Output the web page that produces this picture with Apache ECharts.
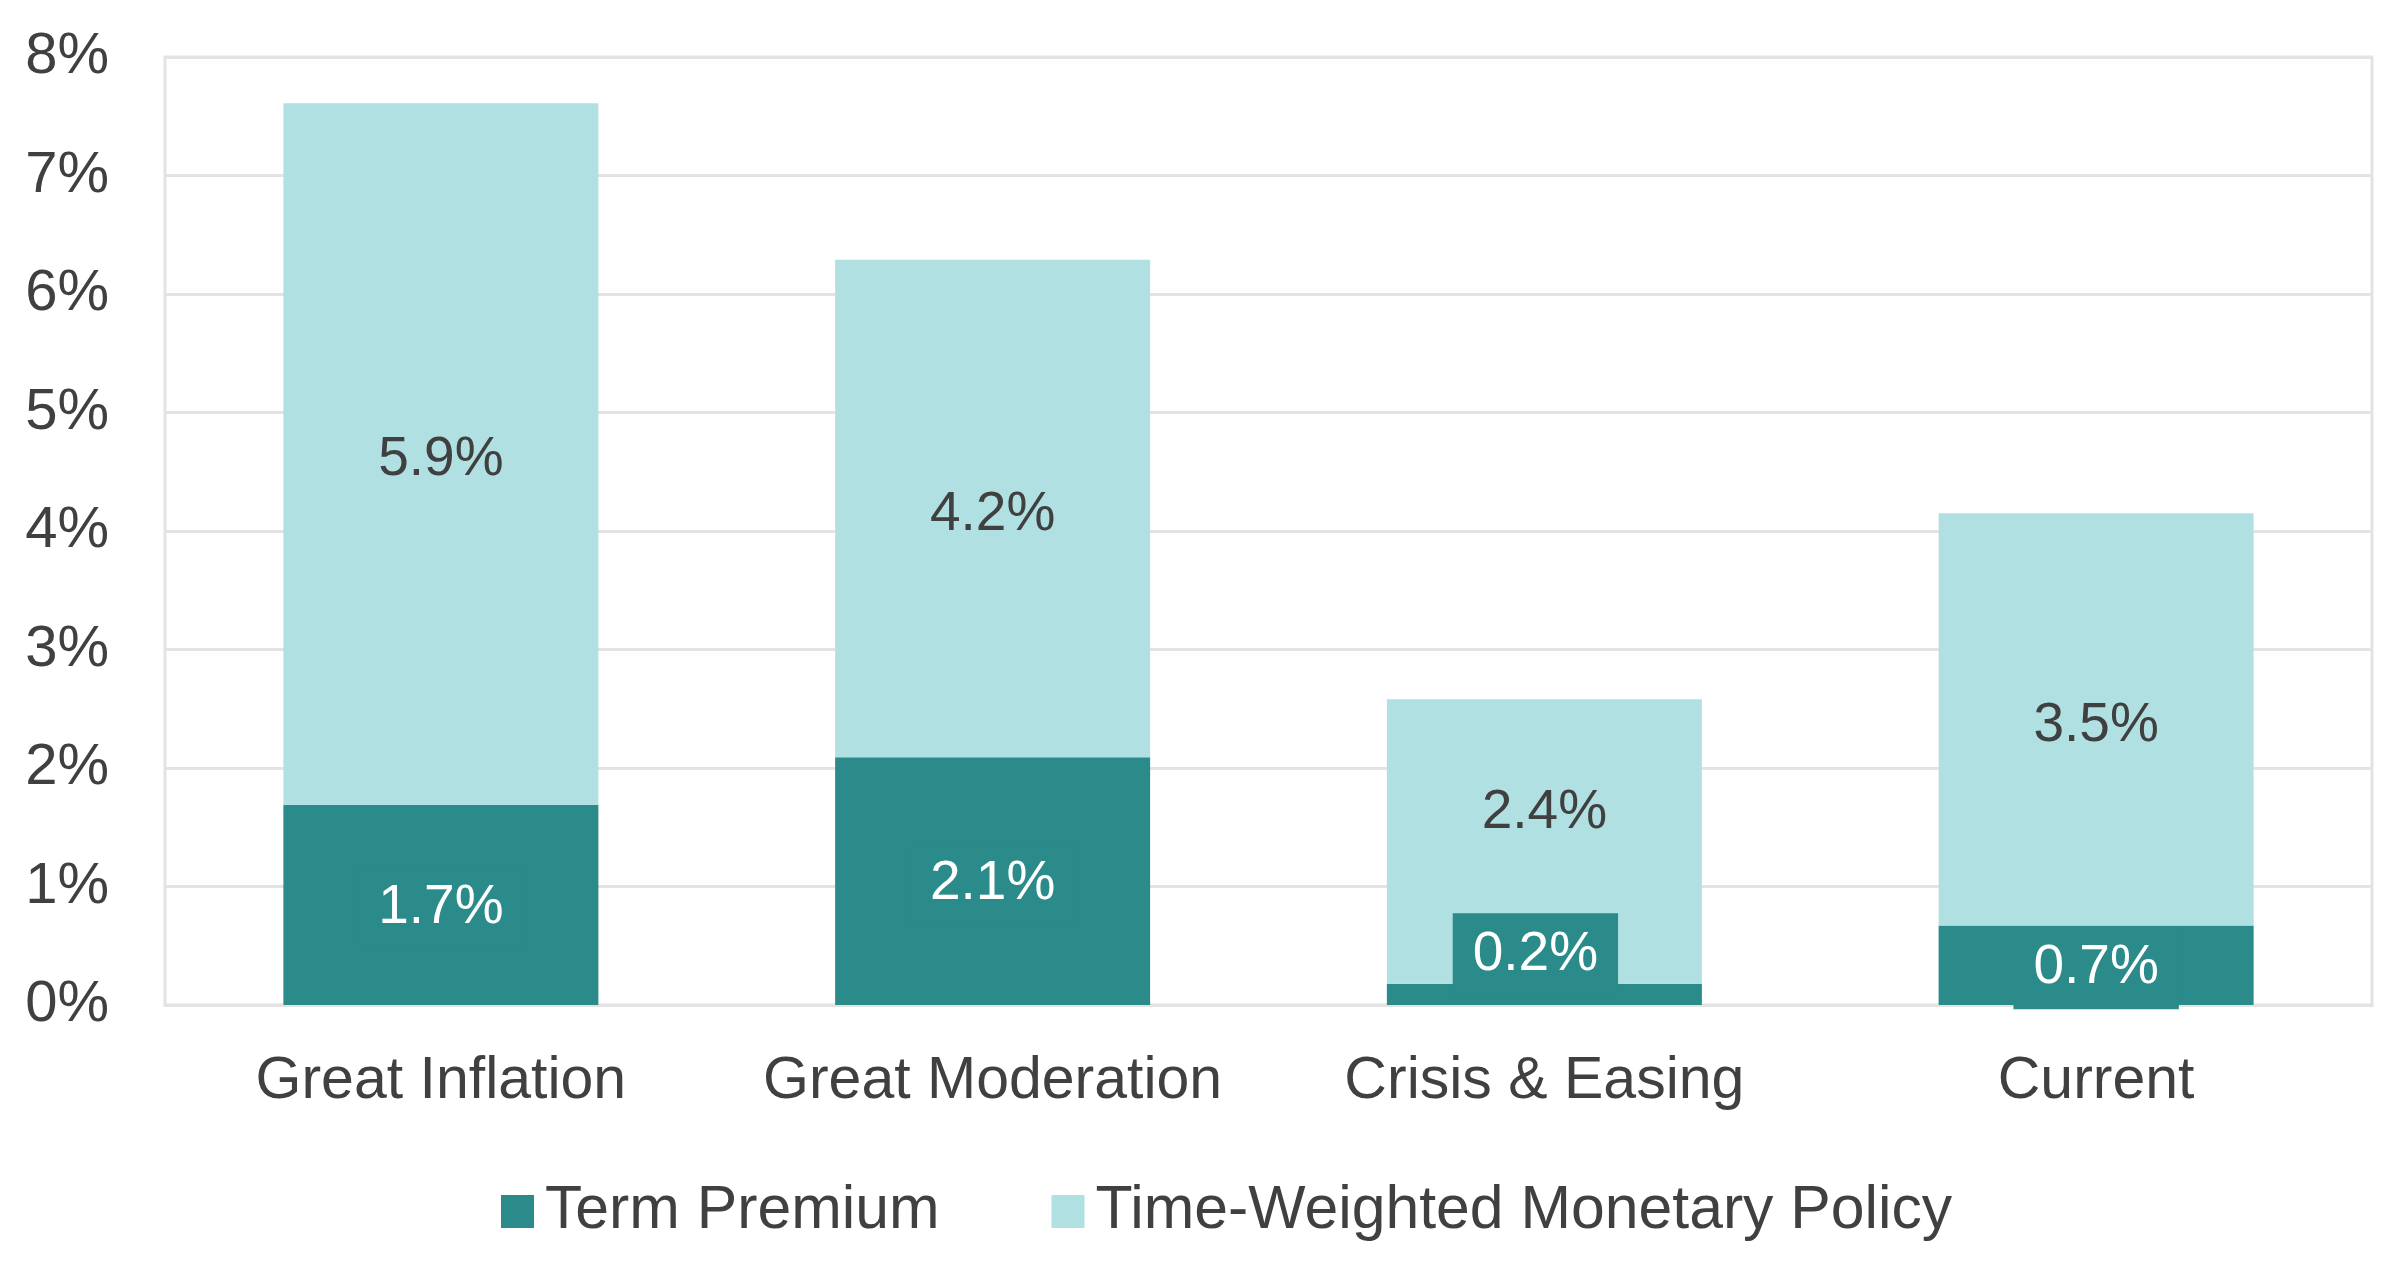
<!DOCTYPE html>
<html>
<head>
<meta charset="utf-8">
<script src="https://cdn.jsdelivr.net/npm/echarts@6/dist/echarts.min.js"></script>
<style>
html,body{margin:0;padding:0;background:#fff;}
#chart{width:2400px;height:1278px;}
</style>
</head>
<body>
<div id="chart"></div>
<script>
const categories = ['Great Inflation', 'Great Moderation', 'Crisis & Easing', 'Current'];
const termPremium = [1.69, 2.09, 0.18, 0.67];
const monetaryPolicy = [5.92, 4.20, 2.40, 3.48];
const yTicks = [0, 1, 2, 3, 4, 5, 6, 7, 8];
const seriesNames = ['Term Premium', 'Time-Weighted Monetary Policy'];

const DARK = '#2B8A8A';
const LIGHT = '#B1E0E2';
const TEXT = '#404040';
const GRID = '#E3E3E3';
const FONT = "'Liberation Sans', Arial, sans-serif";

const chart = echarts.init(document.getElementById('chart'), null, {renderer: 'canvas'});

const fmt = p => p.value.toFixed(1) + '%';

const termData = termPremium.map((v, i) =>
  i === 2 ? {value: v, label: {offset: [-9, -40]}} : v);
const policyData = monetaryPolicy.map((v, i) =>
  i === 2 ? {value: v, label: {offset: [0, -29]}} : v);

chart.setOption({
  backgroundColor: '#fff',
  animation: false,
  textStyle: {fontFamily: FONT},
  grid: {
    left: 165, right: 28, top: 57, bottom: 273,
    show: true, borderColor: GRID, borderWidth: 3, backgroundColor: 'transparent'
  },
  legend: {
    data: seriesNames,
    left: 496, top: 1176,
    itemWidth: 33, itemHeight: 33, itemGap: 112,
    icon: 'rect',
    textStyle: {fontSize: 60.7, color: TEXT, fontFamily: FONT, lineHeight: 60, padding: [0, 0, 0, 6]}
  },
  xAxis: {
    type: 'category',
    data: categories,
    axisLine: {show: true, lineStyle: {color: GRID, width: 3}},
    axisTick: {show: false},
    axisLabel: {interval: 0, fontSize: 59, color: TEXT, fontFamily: FONT, margin: 47, lineHeight: 60}
  },
  yAxis: {
    type: 'value',
    min: yTicks[0], max: yTicks[yTicks.length - 1], interval: 1,
    axisLine: {show: false},
    axisTick: {show: false},
    splitLine: {show: true, lineStyle: {color: GRID, width: 3}},
    axisLabel: {fontSize: 58, color: TEXT, fontFamily: FONT, margin: 56,
      formatter: v => v + '%'}
  },
  series: [
    {
      name: seriesNames[0],
      type: 'bar',
      stack: 'total',
      barWidth: 315,
      itemStyle: {color: DARK},
      data: termData,
      label: {
        show: true, position: 'inside', formatter: fmt, offset: [0, 3],
        fontSize: 55, color: '#fff', fontFamily: FONT, lineHeight: 60,
        backgroundColor: DARK, padding: [13, 20, 9, 20]
      }
    },
    {
      name: seriesNames[1],
      type: 'bar',
      stack: 'total',
      barWidth: 315,
      itemStyle: {color: LIGHT},
      data: policyData,
      label: {
        show: true, position: 'inside', formatter: fmt, offset: [0, 6],
        fontSize: 55, color: TEXT, fontFamily: FONT
      }
    }
  ]
});
</script>
</body>
</html>
